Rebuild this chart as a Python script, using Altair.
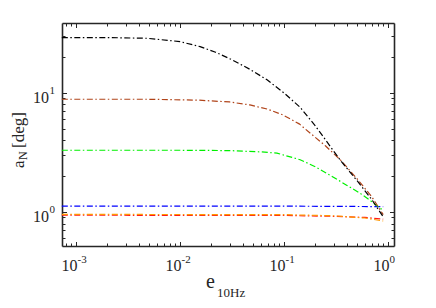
import altair as alt
import pandas as pd

# ---------------- data ----------------
black_e = [0.00073, 0.002, 0.0048, 0.01, 0.0156, 0.022, 0.032, 0.047, 0.0687, 0.1, 0.1426, 0.2, 0.346, 0.5, 0.7, 0.9]
black_a = [29.2, 29.2, 28.8, 27.0, 24.5, 22.0, 18.9, 15.8, 12.9, 10.0, 7.6, 5.3, 2.74, 1.85, 1.27, 0.91]

brown_e = [0.00073, 0.005, 0.015, 0.03, 0.047, 0.07, 0.098, 0.14, 0.178, 0.25, 0.346, 0.5, 0.7, 0.9]
brown_a = [8.85, 8.85, 8.7, 8.4, 7.93, 7.3, 6.53, 5.5, 4.61, 3.6, 2.76, 1.92, 1.34, 0.95]

green_e = [0.00073, 0.01, 0.03, 0.06, 0.0857, 0.143, 0.2, 0.296, 0.4, 0.538, 0.7, 0.838, 0.9]
green_a = [3.3, 3.3, 3.28, 3.2, 3.12, 2.75, 2.4, 1.97, 1.68, 1.44, 1.22, 1.08, 1.03]

blue_e = [0.00073, 0.1, 0.9]
blue_a = [1.12, 1.12, 1.11]

red_e = [0.00073, 0.1, 0.3, 0.6, 0.9]
red_a = [0.94, 0.935, 0.92, 0.9, 0.87]

orange_e = [0.00073, 0.1, 0.3, 0.6, 0.9]
orange_a = [0.955, 0.95, 0.93, 0.89, 0.84]

series_names = ["blue", "red", "orange", "green", "brown", "black"]
series_colors = ["#0000FF", "#FF1A1A", "#FF9900", "#00F000", "#B0441A", "#000000"]
series_e = [blue_e, red_e, orange_e, green_e, brown_e, black_e]
series_a = [blue_a, red_a, orange_a, green_a, brown_a, black_a]

x_major = [0.001, 0.01, 0.1, 1.0]
x_minor = [m * 10.0 ** k for k in (-4, -3, -2, -1) for m in range(2, 10)]
x_ticks = [v for v in x_minor + x_major if 0.00073 <= v <= 1.14]
y_major = [1.0, 10.0]
y_minor = [0.6, 0.7, 0.8, 0.9, 2, 3, 4, 5, 6, 7, 8, 9, 20, 30]
y_ticks = y_major + y_minor

x_domain = [0.000733, 1.143]
y_domain = [0.518, 38.7]

W, H = 332, 223
FONT = "Times New Roman, Liberation Serif, serif"
AX = "#262626"

xs = alt.Scale(type="log", domain=x_domain, nice=False)
ys = alt.Scale(type="log", domain=y_domain, nice=False)

major_test = "abs(log(datum.value)/LN10 - round(log(datum.value)/LN10)) < 0.001"
tick_size = {"condition": {"test": major_test, "value": 4.5}, "value": 3}

layers = []
for name, col, ev, av in zip(series_names, series_colors, series_e, series_a):
    df = pd.DataFrame({"e": ev, "a": av})
    layers.append(
        alt.Chart(df).mark_line(color=col, strokeWidth=1.2, strokeDash=[6, 2.5, 1.5, 2.5])
        .encode(x=alt.X("e:Q", scale=xs, axis=None), y=alt.Y("a:Q", scale=ys, axis=None))
    )

anchor = pd.DataFrame({"e": [0.01], "a": [1.0]})


def xaxis_layer(axis):
    return alt.Chart(anchor).mark_point(opacity=0).encode(x=alt.X("e:Q", scale=xs, axis=axis))


def yaxis_layer(axis):
    return alt.Chart(anchor).mark_point(opacity=0).encode(y=alt.Y("a:Q", scale=ys, axis=axis))


common = dict(title=None, grid=False)
# x: "10" labels with bottom box edge
layers.append(xaxis_layer(alt.Axis(orient="bottom", values=x_major, domain=True, domainColor=AX, domainWidth=1.6,
                                   ticks=False, tickSize=0, labelExpr="'10'", labelFont=FONT, labelFontSize=16,
                                   labelColor=AX, labelAlign="right", labelBaseline="top", labelOffset=1,
                                   labelPadding=11, labelFlush=False, labelOverlap=False, **common)))
# x: exponents
layers.append(xaxis_layer(alt.Axis(orient="bottom", values=x_major, domain=False, ticks=False, tickSize=0,
                                   labelExpr="'' + round(log(datum.value)/LN10)", labelFont=FONT, labelFontSize=11,
                                   labelColor=AX, labelAlign="left", labelBaseline="top", labelOffset=1,
                                   labelPadding=7, labelFlush=False, labelOverlap=False, **common)))
# x: inward ticks at bottom
layers.append(xaxis_layer(alt.Axis(orient="top", offset=-H, values=x_ticks, domain=False, ticks=True,
                                   tickSize=tick_size, tickColor=AX, tickWidth=1, labels=False, **common)))
# x: top box edge with inward ticks
layers.append(xaxis_layer(alt.Axis(orient="bottom", offset=-H, values=x_ticks, domain=True, domainColor=AX,
                                   domainWidth=1.6, ticks=True, tickSize=tick_size, tickColor=AX, tickWidth=1,
                                   labels=False, **common)))

# y: "10" labels with left box edge
layers.append(yaxis_layer(alt.Axis(orient="left", values=y_major, domain=True, domainColor=AX, domainWidth=1.6,
                                   ticks=False, tickSize=0, labelExpr="'10'", labelFont=FONT, labelFontSize=16,
                                   labelColor=AX, labelAlign="right", labelBaseline="middle", labelOffset=5,
                                   labelPadding=13.5, labelFlush=False, labelOverlap=False, **common)))
# y: exponents
layers.append(yaxis_layer(alt.Axis(orient="left", values=y_major, domain=False, ticks=False, tickSize=0,
                                   labelExpr="'' + round(log(datum.value)/LN10)", labelFont=FONT, labelFontSize=11,
                                   labelColor=AX, labelAlign="left", labelBaseline="middle", labelOffset=-2,
                                   labelPadding=13, labelFlush=False, labelOverlap=False, **common)))
# y: inward ticks at left
layers.append(yaxis_layer(alt.Axis(orient="right", offset=-W, values=y_ticks, domain=False, ticks=True,
                                   tickSize=tick_size, tickColor=AX, tickWidth=1, labels=False, **common)))
# y: right box edge with inward ticks
layers.append(yaxis_layer(alt.Axis(orient="left", offset=-W, values=y_ticks, domain=True, domainColor=AX,
                                   domainWidth=1.6, ticks=True, tickSize=tick_size, tickColor=AX, tickWidth=1,
                                   labels=False, **common)))

# axis titles (with sub-scripts) as text marks
x_title_parts = ["e", "10Hz"]
y_title_parts = ["a", "N", "[deg]"]


def text_layer(txt, x, y, size, angle=0):
    return alt.Chart(pd.DataFrame({"t": [txt]})).mark_text(
        font=FONT, fontSize=size, color=AX, align="left", baseline="alphabetic", angle=angle
    ).encode(text="t:N", x=alt.value(x), y=alt.value(y))


layers.append(text_layer(x_title_parts[0], 144, 265, 20))
layers.append(text_layer(x_title_parts[1], 155, 274, 13))
layers.append(text_layer(y_title_parts[0], -38, 145, 17, 270))
layers.append(text_layer(y_title_parts[1], -35, 137, 12, 270))
layers.append(text_layer(y_title_parts[2], -38, 125, 17, 270))

chart = (
    alt.layer(*layers)
    .resolve_axis(x="independent", y="independent")
    .properties(width=W, height=H, autosize=alt.AutoSizeParams(type="none"),
                padding={"left": 54, "top": 15, "right": 34, "bottom": 54})
    .configure_view(stroke=None)
    .configure(background="white")
)

chart.save("out.html", embed_options={"renderer": "svg", "actions": False})
